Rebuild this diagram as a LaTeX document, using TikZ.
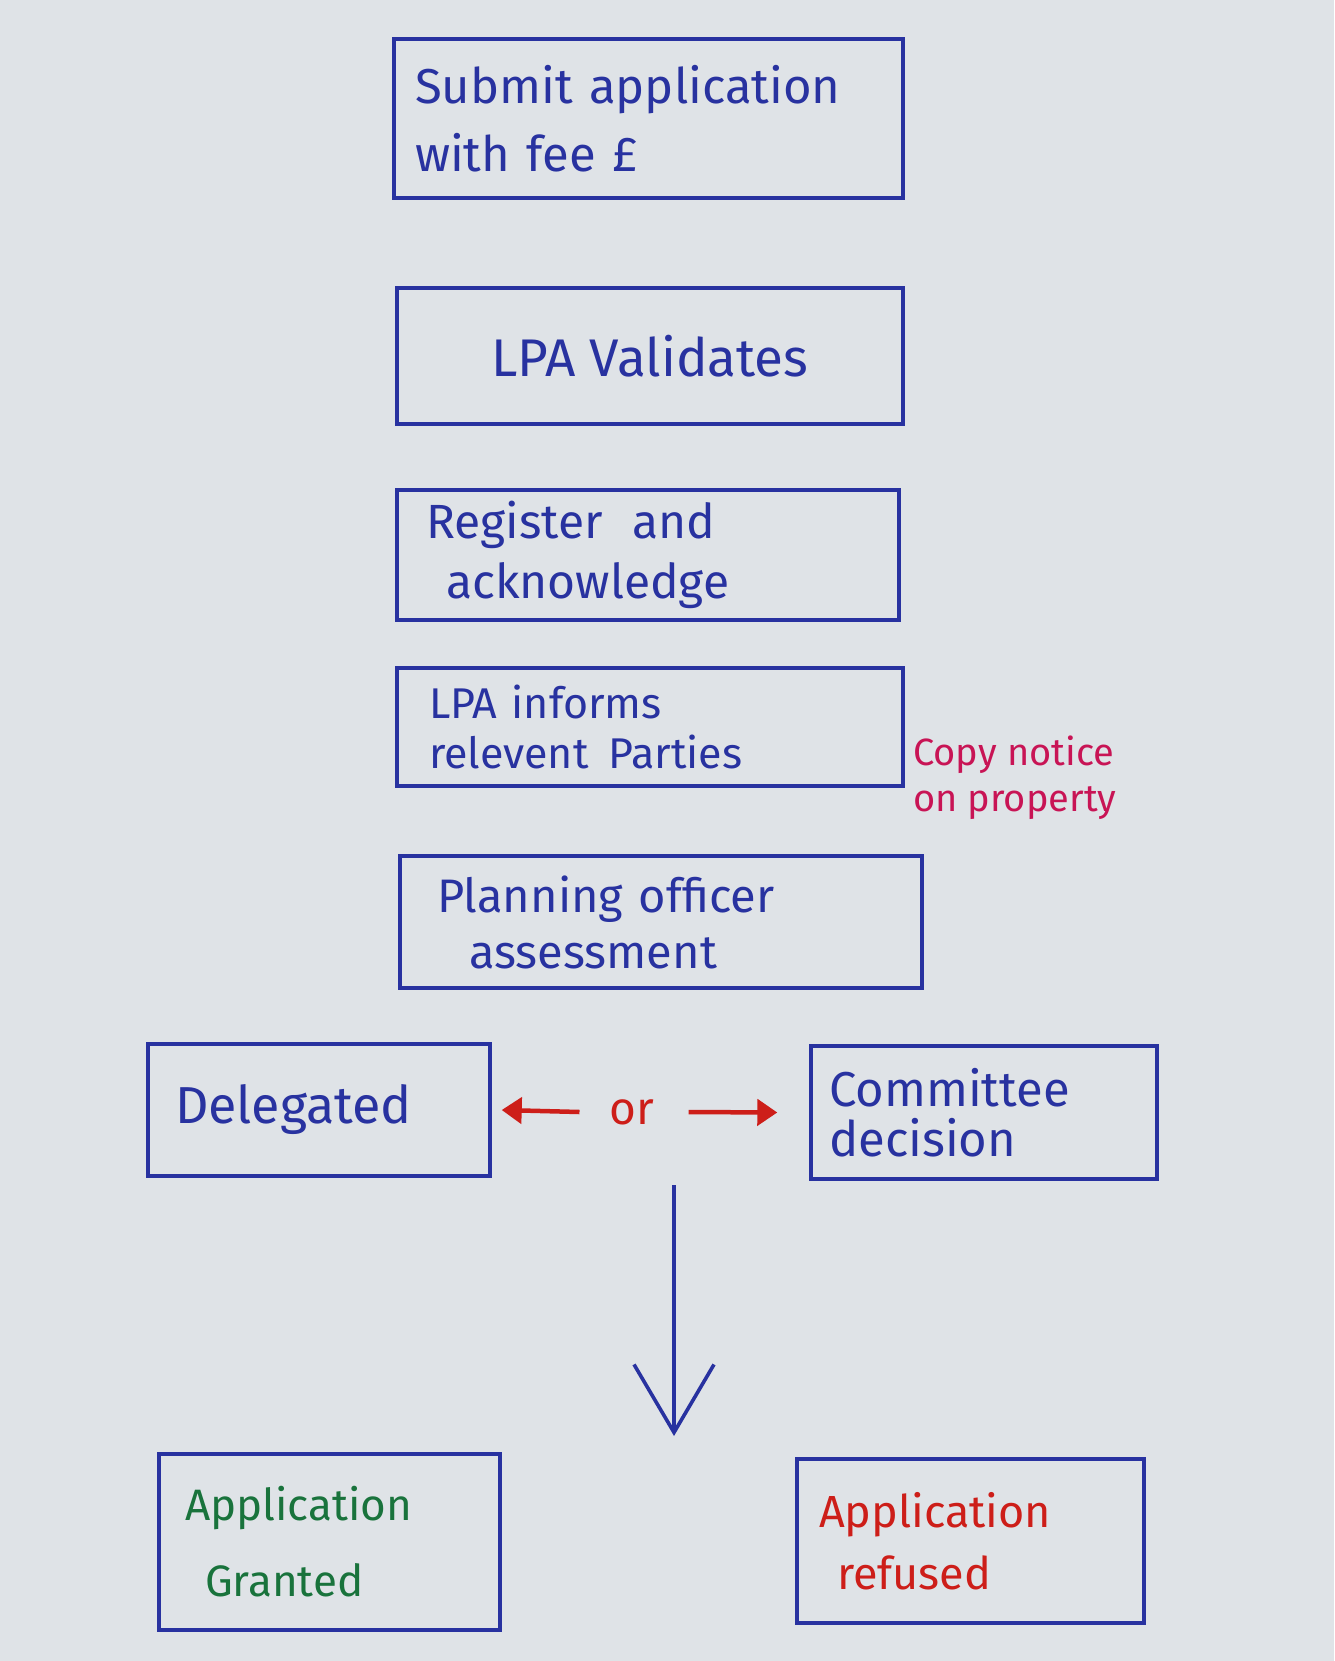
\documentclass[tikz,border=0pt]{standalone}
\usepackage{fontspec}
\setmainfont{Fira Sans}
\usetikzlibrary{arrows.meta}
\definecolor{paper}{RGB}{223,227,231}
\definecolor{ink}{RGB}{40,50,160}
\definecolor{redink}{RGB}{205,30,25}
\definecolor{pinkink}{RGB}{200,20,85}
\definecolor{greenink}{RGB}{25,115,60}
\begin{document}
\begin{tikzpicture}[x=1pt,y=-1pt,
  box/.style={draw=ink,line width=3.4pt,rectangle,inner ysep=0pt,align=left,text=ink},
  orarrow/.style={draw=redink,line width=4.5pt,-{Triangle[length=20pt,width=26pt]}}]
\path[fill=paper] (0,0) rectangle (1334,1661);

\node[box,minimum height=159pt,inner xsep=21pt,text width=467pt,font=\fontsize{49}{68}\selectfont] (submit) at (648.5,118.5)
  {Submit application\\with fee £};
\node[box,minimum height=136pt,minimum width=506pt,align=center,font=\fontsize{53}{60}\selectfont] (validate) at (650,356)
  {LPA Validates};
\node[box,minimum height=130pt,inner xsep=29pt,text width=444pt,font=\fontsize{48}{60}\selectfont] (register) at (648,555)
  {Register\hspace*{30pt}and\\\hspace*{20pt}acknowledge};
\node[box,minimum height=118pt,inner xsep=32pt,text width=442pt,font=\fontsize{43}{50}\selectfont] (inform) at (650,727)
  {LPA informs\\relevent\hspace*{20pt}Parties};
\node[align=left,text=pinkink,font=\fontsize{38}{46}\selectfont,anchor=west,inner sep=0pt] (notice) at (913,778)
  {Copy notice\\on property};
\node[box,minimum height=132pt,inner xsep=37pt,text width=448pt,font=\fontsize{47}{56}\selectfont] (assess) at (661,922)
  {Planning officer\\\hspace*{32pt}assessment};
\node[box,minimum height=132pt,inner xsep=27pt,text width=288pt,font=\fontsize{52}{56}\selectfont] (deleg) at (319,1110)
  {Delegated};
\node[box,minimum height=133pt,inner xsep=18pt,text width=310pt,font=\fontsize{49}{50}\selectfont] (commit) at (984,1112.5)
  {Committee\\decision};
\node[text=redink,font=\fontsize{46}{48}\selectfont,inner sep=0pt] (or) at (632,1112) {or};
\draw[orarrow] ([xshift=-30pt]or.west) -- ([xshift=10pt]deleg.east);
\draw[orarrow] ([xshift=34pt]or.east) -- ([xshift=-32pt]commit.west);

\coordinate (dtop) at (674,1185);
\coordinate (dbot) at (674,1436);
\draw[ink,line width=3.6pt,-{Straight Barb[length=68pt,width=80pt,line width=3.6pt]}] (dtop) -- (dbot);

\node[box,minimum height=176pt,inner xsep=26pt,text width=289pt,text=greenink,font=\fontsize{44}{76}\selectfont] (granted) at (329.5,1542)
  {Application\\\hspace*{20pt}Granted};
\node[box,minimum height=164pt,inner xsep=22pt,text width=303pt,text=redink,font=\fontsize{45}{62}\selectfont] (refused) at (970.5,1541)
  {Application\\\hspace*{18pt}refused};
\end{tikzpicture}
\end{document}
